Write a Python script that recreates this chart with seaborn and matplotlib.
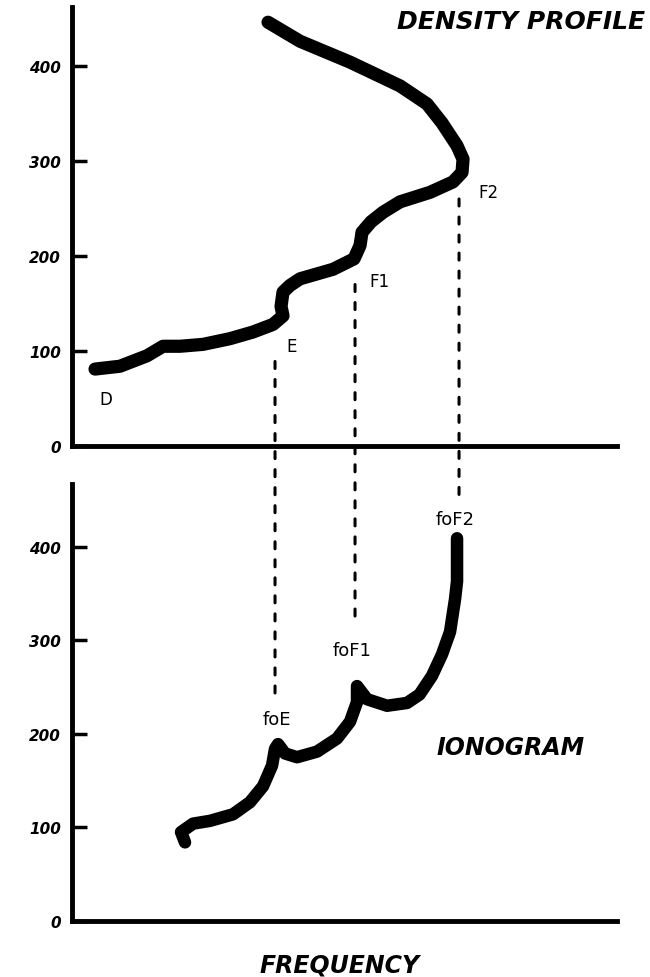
import numpy as np
import pandas as pd
import matplotlib.pyplot as plt
import seaborn as sns
from matplotlib.patches import ConnectionPatch

# density profile (frequency in arbitrary units, height in km)
density_freq = [0.46, 0.96, 1.50, 1.82, 2.16, 2.62, 3.16, 3.62, 4.02, 4.22, 4.18, 4.22,
                4.36, 4.56, 5.22, 5.64, 5.76, 5.80, 5.98, 6.22, 6.56, 7.16, 7.62, 7.80,
                7.82, 7.70, 7.40, 7.10, 6.56, 5.56, 4.56, 3.92]
density_height = [81, 84, 95, 105, 105, 107, 113, 120, 128, 137, 147, 162,
                  169, 176, 186, 197, 211, 225, 236, 246, 257, 267, 278, 288,
                  302, 316, 340, 360, 379, 404, 426, 446]

# ionogram trace (virtual height)
iono_freq = [2.26, 2.18, 2.42, 2.76, 3.22, 3.56, 3.82, 4.00, 4.06, 4.12, 4.26, 4.50,
             4.90, 5.30, 5.56, 5.70, 5.70, 5.90, 6.30, 6.70, 6.95, 7.20, 7.40, 7.56,
             7.66, 7.70, 7.70]
iono_height = [84, 95, 104, 107, 114, 127, 144, 166, 184, 189, 179, 175,
               181, 195, 213, 234, 251, 237, 230, 233, 242, 262, 285, 309,
               344, 363, 409]

# layer labels in the density profile
layer_names = ["D", "E", "F1", "F2"]
layer_x = [0.68, 4.40, 6.14, 8.32]
layer_y = [49, 105, 174, 267]

# critical frequencies: dashed links from the profile down to the ionogram
crit_names = ["foE", "foF1", "foF2"]
crit_freq = [4.06, 5.66, 7.74]
crit_top = [89, 170, 260]
crit_bottom = [241, 318, 446]
crit_label_x = [4.10, 5.60, 7.66]
crit_label_y = [216, 290, 430]

yticks = [0, 100, 200, 300, 400]

sns.set_style("white")
plt.rcParams['font.family'] = ['DejaVu Sans']
plt.rcParams['text.color'] = 'black'

fig = plt.figure(figsize=(6.5, 9.78), dpi=100)
ax_top = fig.add_axes([0.1108, 0.5429, 0.8385, 0.4489])
ax_bot = fig.add_axes([0.1108, 0.0573, 0.8385, 0.4468])

df_dens = pd.DataFrame({"freq": density_freq, "height": density_height})
df_iono = pd.DataFrame({"freq": iono_freq, "height": iono_height})

sns.lineplot(data=df_dens, x="freq", y="height", sort=False, estimator=None,
             color="black", linewidth=9.5, solid_capstyle="round",
             solid_joinstyle="round", ax=ax_top)
sns.lineplot(data=df_iono, x="freq", y="height", sort=False, estimator=None,
             color="black", linewidth=9, solid_capstyle="round",
             solid_joinstyle="round", ax=ax_bot)

for ax, ytop in [(ax_top, 462), (ax_bot, 467)]:
    ax.set_xlim(0, 10.9)
    ax.set_ylim(0, ytop)
    ax.set_xlabel("")
    ax.set_ylabel("")
    ax.set_xticks([])
    ax.set_yticks(yticks)
    ax.set_yticklabels([str(t) for t in yticks], fontsize=11, color="black",
                       fontweight="bold", fontstyle="italic")
    ax.tick_params(axis="y", direction="in", length=11, width=2.5, pad=8, left=True,
                   colors="black")
    for side in ["top", "right"]:
        ax.spines[side].set_visible(False)
    for side in ["left", "bottom"]:
        ax.spines[side].set_linewidth(3.5)
        ax.spines[side].set_color("black")
    ax.patch.set_visible(False)

# layer labels
for name, x, y in zip(layer_names, layer_x, layer_y):
    ax_top.text(x, y, name, fontsize=12, ha="center", va="center", color="black")

# dashed critical-frequency links
for f, yt, yb in zip(crit_freq, crit_top, crit_bottom):
    con = ConnectionPatch(xyA=(f, yt), coordsA=ax_top.transData,
                          xyB=(f, yb), coordsB=ax_bot.transData,
                          color="black", linewidth=2.2, linestyle=(0, (2.3, 3.6)))
    fig.add_artist(con)

for name, x, y in zip(crit_names, crit_label_x, crit_label_y):
    ax_bot.text(x, y, name, fontsize=13, ha="center", va="center", color="black")

ax_top.text(11.46, 447, "DENSITY PROFILE", fontsize=18, fontweight="bold",
            fontstyle="italic", ha="right", va="center", color="black")
ax_bot.text(8.78, 186, "IONOGRAM", fontsize=17, fontweight="bold",
            fontstyle="italic", ha="center", va="center", color="black")
ax_bot.text(5.36, -46, "FREQUENCY", fontsize=17, fontweight="bold",
            fontstyle="italic", ha="center", va="center", color="black")

fig.savefig("out.png", dpi=100, facecolor="white")
